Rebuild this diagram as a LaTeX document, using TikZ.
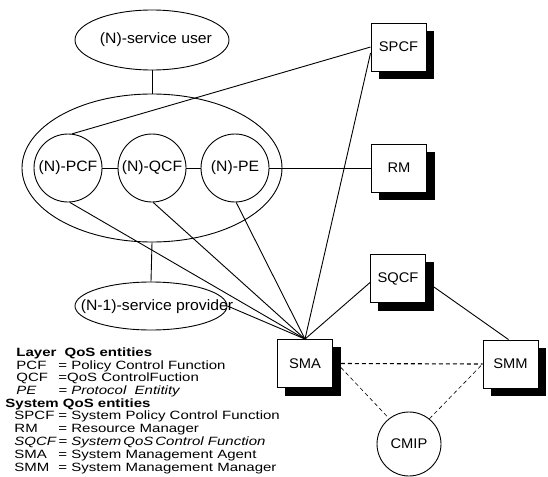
\documentclass[tikz,border=0pt]{standalone}
\usepackage{fontspec}
\setmainfont{Liberation Sans}[FakeStretch=1.05]
\newfontfamily\legf{Liberation Sans}[FakeStretch=1.25]
\usetikzlibrary{shapes.geometric,backgrounds}
\begin{document}
\begin{tikzpicture}[x=1pt,y=-1pt,line width=0.9pt,
  circ/.style={circle,draw,minimum size=68pt,inner sep=0pt,font=\fontsize{15}{15}\selectfont},
  ell/.style={ellipse,draw,inner sep=0pt},
  lbl/.style={inner sep=0pt,font=\fontsize{15}{15}\selectfont},
  box/.style={rectangle,draw,fill=white,minimum width=55pt,minimum height=48pt,inner sep=0pt,
    font=\fontsize{14}{14}\selectfont},
  shadowfill/.style={fill=black},
  dsh/.style={dash pattern=on 4pt off 3pt},
  legfont/.style={font=\legf\fontsize{12}{12}\selectfont},
  legb/.style={font=\legf\fontsize{12}{12}\selectfont\bfseries},
  legi/.style={font=\legf\fontsize{12}{12}\selectfont\itshape},
  leg/.style={anchor=base west,inner sep=0pt,legfont}]
\useasboundingbox (0,0) rectangle (548,476);

% layer entities
\node[ell,minimum width=154pt,minimum height=60pt] (user) at (152,40) {};
\node[lbl] (userl) at (156,40) {(N)-service user};
\node[ell,minimum width=260pt,minimum height=148pt] (layer) at (152,168) {};
\node[circ] (pcf) at (68,168) {(N)-PCF};
\node[circ] (qcf) at (152,168) {(N)-QCF};
\node[circ] (pe) at (235,168) {(N)-PE};
\node[ell,minimum width=152pt,minimum height=48pt] (prov) at (151,306) {};
\node[lbl] (provl) at (157,307) {(N-1)-service provider};

% system entities
\node[box] (spcf) at (398.5,47) {SPCF};
\node[box] (rm) at (399,168) {RM};
\node[box] (sqcf) at (398,278.5) {SQCF};
\node[box] (sma) at (305,363.5) {SMA};
\node[box] (smm) at (510.5,364) {SMM};
\node[circle,draw,minimum size=64pt,inner sep=0pt,font=\fontsize{14}{14}\selectfont] (cmip) at (409,444) {CMIP};

\begin{scope}[on background layer]
  \foreach \b in {spcf,rm,sqcf,sma,smm}
    \fill[shadowfill] ([xshift=8pt,yshift=-8pt]\b.south west) rectangle ([xshift=8pt,yshift=-8pt]\b.north east);
\end{scope}

% connectors
\draw (user.south) -- (layer.north);
\draw (layer.south) -- (prov.north);
\draw (pcf) -- (qcf);
\draw (qcf) -- (pe);
\draw (pe) -- (rm);
\draw (pcf.83) -- (spcf.west);
\draw (sma.north) -- ([yshift=-6pt]spcf.west);
\draw (sma.north) -- (pcf.-87);
\draw (sma.north) -- (qcf.-88);
\draw (sma.north) -- (pe.-88);
\draw (sma.north) -- (prov.east);
\draw (sma.north) -- ([yshift=-4pt]sqcf.west);
\draw ([xshift=8pt,yshift=-8.5pt]sqcf.east) -- ([xshift=-2pt]smm.north);
\draw[dsh,line width=1.1pt] ([xshift=8pt]sma.east) -- (smm.west);
\draw[dsh,line width=0.6pt] ([xshift=8pt,yshift=-4pt]sma.east) -- (cmip.128);
\draw[dsh,line width=0.6pt] (cmip.51) -- (smm.west);

% legend
\node[leg,legb] (h1) at (16,356) {Layer\hspace{4pt} QoS entities};
\node[leg] (r1a) at (16,369) {PCF};
\node[leg] (r1b) at (58,369) {= Policy Control Function};
\node[leg] (r2a) at (16,381) {QCF};
\node[leg] (r2b) at (58,381) {=QoS ControlFuction};
\node[leg,legi] (r3a) at (16,394) {PE};
\node[leg,legi] (r3b) at (58,394) {= Protocol\ \ Entitity};
\node[leg,legb] (h2) at (5,407) {System QoS entities};
\node[leg] (s1a) at (14,419) {SPCF};
\node[leg] (s1b) at (58,419) {= System Policy Control Function};
\node[leg] (s2a) at (14,432) {RM};
\node[leg] (s2b) at (58,432) {= Resource Manager};
\node[leg,legi] (s3a) at (14,445) {SQCF};
\node[leg,legi] (s3b) at (58,445) {= System\,QoS\,Control Function};
\node[leg] (s4a) at (14,458) {SMA};
\node[leg] (s4b) at (58,458) {= System Management Agent};
\node[leg] (s5a) at (14,471) {SMM};
\node[leg] (s5b) at (58,471) {= System Management Manager};
\end{tikzpicture}
\end{document}
